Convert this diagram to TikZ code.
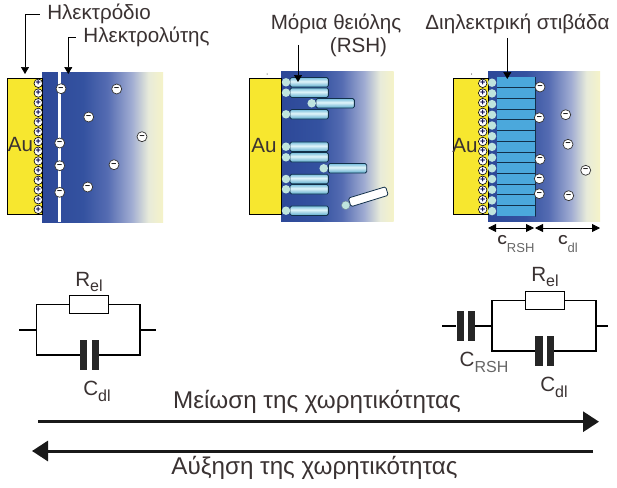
\documentclass[tikz,border=0pt]{standalone}
\usepackage{fontspec}
\setmainfont{Liberation Sans}
\usetikzlibrary{arrows.meta}

\definecolor{inktext}{HTML}{3A3232}
\definecolor{goldfill}{HTML}{F7E72F}
\definecolor{layerblue}{HTML}{4BA8DC}
\definecolor{edgeblue}{HTML}{12304A}
\definecolor{headteal}{HTML}{BFE4DE}
\definecolor{bulka}{RGB}{45,72,152}
\definecolor{bulkb}{RGB}{52,82,160}
\definecolor{bulkc}{RGB}{85,108,178}
\definecolor{bulkd}{RGB}{160,172,210}
\definecolor{bulke}{RGB}{232,235,218}
\definecolor{bulkf}{RGB}{245,243,200}
\definecolor{taila}{RGB}{90,170,205}
\definecolor{tailb}{RGB}{225,245,250}
\definecolor{tailc}{RGB}{120,190,220}

\pgfdeclarehorizontalshading{bulk}{100bp}{
  color(0bp)=(bulka);
  color(25bp)=(bulka);
  color(42bp)=(bulkb);
  color(52bp)=(bulkc);
  color(62bp)=(bulkd);
  color(69bp)=(bulke);
  color(75bp)=(bulkf);
  color(100bp)=(bulkf)}
\pgfdeclareverticalshading{tailshade}{100bp}{
  color(0bp)=(taila);
  color(25bp)=(taila);
  color(55bp)=(tailb);
  color(75bp)=(tailc);
  color(100bp)=(tailc)}

\newcommand{\lowsub}[1]{\raisebox{-.28em}{\fontsize{16}{16}\selectfont #1}}

\tikzset{
  goldbox/.style={draw=black,fill=goldfill,line width=.8pt,minimum width=#1,minimum height=136,inner sep=0},
  bulkbox/.style={shading=bulk,minimum width=#1,minimum height=150,inner sep=0},
  pluscirc/.style={circle,draw=black,fill=white,line width=.6pt,minimum size=8.5,inner sep=0,font=\fontsize{9}{9}\selectfont\bfseries,text=black!70!blue},
  minuscirc/.style={circle,draw=black!80,fill=white,line width=.7pt,minimum size=10,inner sep=0,text=black,font=\fontsize{9}{9}\selectfont\bfseries},
  tailbox/.style={draw=edgeblue,line width=.8pt,rounded corners=1.5,shading=tailshade,minimum width=#1,minimum height=9.5,inner sep=0},
  headcirc/.style={circle,fill=headteal,minimum size=8.5,inner sep=0},
  segbox/.style={fill=layerblue,minimum width=38,minimum height=10.7,inner sep=0},
  plate/.style={fill=black!85,minimum width=7.3,minimum height=30,inner sep=0},
  resbox/.style={draw=black,fill=white,line width=.5pt,minimum width=39,minimum height=18,inner sep=0},
  wire/.style={line width=1.2pt},
  pointer/.style={line width=.7pt,-{Triangle[length=7,width=8]}},
  bigarrow/.style={line width=3pt,black!90,-{Triangle[length=16,width=20]}},
  spanarrow/.style={line width=.8pt,{Triangle[length=8,width=8]}-{Triangle[length=8,width=8]}},
  toplabel/.style={font=\fontsize{20.6}{22}\selectfont},
  trendlabel/.style={font=\fontsize{24.2}{26}\selectfont},
  every node/.style={text=inktext,font=\fontsize{20.6}{22}\selectfont},
}

\begin{document}
\begin{tikzpicture}[x=1pt,y=-1pt]
  \useasboundingbox (0,0) rectangle (617,487);
  \fill[white] (0,0) rectangle (617,487);

  % bare electrode
  \node[bulkbox=121] (bulk1) at (102.5,147) {};
  \node[goldbox=34.5] (gold1) at (24.8,146) {};
  \node (au1) at (20.5,145) {Au};
  \fill[white] (57.7,72) rectangle (61,222);
  \foreach \i in {0,...,13}
    \node[pluscirc] (pa\i) at (38.3,83.3+9.7*\i) {+};
  \begin{scope}[every node/.style={minuscirc}]
    \node (ma1) at (61,88.7) {--};
    \node (ma2) at (116.7,89) {--};
    \node (ma3) at (88.7,117) {--};
    \node (ma4) at (142,136.7) {--};
    \node (ma5) at (59.7,143) {--};
    \node (ma6) at (114,164.7) {--};
    \node (ma7) at (59.7,165.7) {--};
    \node (ma8) at (87.7,187) {--};
    \node (ma9) at (59.7,192.3) {--};
  \end{scope}

  % thiol molecules
  \node[bulkbox=112.5] (bulk2) at (337.3,146) {};
  \node[goldbox=32.4] (gold2) at (265.5,146) {};
  \node (au2) at (264,146) {Au};
  \foreach \y in {82.3,92.7,114.3,146.7,157.3,179,189.3,210.7} {
    \node[tailbox=38.3] at (309.2,\y) {};
    \node[headcirc] at (286,\y) {};
  }
  \node[tailbox=38.3] (tb1) at (335.2,103.3) {};
  \node[headcirc] (hb1) at (311.7,103.3) {};
  \node[tailbox=38.3] (tb2) at (347.5,168.3) {};
  \node[headcirc] (hb2) at (323.7,168.3) {};
  \node[draw=edgeblue,line width=.8pt,fill=white,rounded corners=1.5,minimum width=39,minimum height=9,inner sep=0,rotate=17] (tb3) at (368.3,196.7) {};
  \node[headcirc,draw=edgeblue!60] (hb3) at (345.7,205.3) {};
  \node[fill=black,circle,inner sep=0,minimum size=1] (dot2) at (267,74) {};

  % dielectric layer
  \node[bulkbox=112] (bulk3) at (544,146) {};
  \node[goldbox=35] (gold3) at (470.5,146) {};
  \node (au3) at (465,146) {Au};
  \foreach \i in {0,...,12}
    \node[segbox] (sg\i) at (516,82.7+10.7*\i) {};
  \foreach \i in {0,...,11}
    \draw[line width=1pt,edgeblue] (497,87.8+10.7*\i) -- (535,87.8+10.7*\i);
  \draw[line width=.7pt,edgeblue] (sg0.north east) rectangle (sg12.south east);
  \foreach \i in {0,...,12}
    \node[headcirc] (hc\i) at (492,82.7+10.7*\i) {};
  \foreach \i in {0,...,13}
    \node[pluscirc] (pc\i) at (482.7,83.3+9.7*\i) {+};
  \begin{scope}[every node/.style={minuscirc}]
    \node (mc1) at (540,87) {--};
    \node (mc2) at (539.3,117.7) {--};
    \node (mc3) at (565.7,114.7) {--};
    \node (mc4) at (568,144.3) {--};
    \node (mc5) at (540,159.3) {--};
    \node (mc6) at (585.7,170.3) {--};
    \node (mc7) at (539.3,178.7) {--};
    \node (mc8) at (539.3,193.7) {--};
    \node (mc9) at (568.7,195.7) {--};
  \end{scope}
  \node[fill=black,circle,inner sep=0,minimum size=1] (dot3) at (471.7,74) {};

  % top labels and pointers
  \node (elec) at (99,14) {Ηλεκτρόδιο};
  \node (lyte) at (146.5,37) {Ηλεκτρολύτης};
  \node (thiol) at (336,24) {Μόρια θειόλης};
  \node (rsh) at (358.5,47) {(RSH)};
  \node (diel) at (517.5,24) {Διηλεκτρική στιβάδα};
  \coordinate (tipa) at (25,74);
  \coordinate (tipb) at (68.3,74);
  \coordinate (tipc) at (298,82);
  \coordinate (tipd) at (507.3,79);
  \coordinate (taild) at (507.3,38);
  \draw[pointer,shorten <=4pt] (elec.west) -| (tipa);
  \draw[pointer,shorten <=4pt] (lyte.west) -| (tipb);
  \draw[pointer] (298,45) -- (tipc);
  \draw[pointer] (taild) -- (tipd);

  % layer widths
  \coordinate (wa) at (488,228);
  \coordinate (wb) at (534,228);
  \coordinate (wc) at (535,228);
  \coordinate (wd) at (600,228);
  \draw[spanarrow] (wa) -- (wb);
  \draw[spanarrow] (wc) -- (wd);
  \node[font=\fontsize{13}{13}\selectfont] (lrsh) at (516,244) {\textbf{C}\raisebox{-.6em}{\color{black!60}RSH}};
  \node[font=\fontsize{13}{13}\selectfont] (ldl) at (568,244) {\textbf{C}\raisebox{-.6em}{\color{black!60}dl}};

  % left circuit
  \node[resbox] (rl) at (88.5,304.3) {};
  \node[plate] (cla) at (83.7,355) {};
  \node[plate] (clb) at (95.3,355) {};
  \coordinate (jla) at (36.6,330);
  \coordinate (jlb) at (140,330);
  \coordinate (ela) at (19,330);
  \coordinate (elb) at (155.5,330);
  \draw[wire] (rl.west) -| (jla) |- (cla.west);
  \draw[wire] (rl.east) -| (jlb) |- (clb.east);
  \draw[wire] (ela) -- (jla);
  \draw[wire] (jlb) -- (elb);
  \node (relL) at (89,282) {R\lowsub{el}};
  \node (cdlL) at (97,391.5) {C\lowsub{dl}};

  % right circuit
  \node[resbox] (rr) at (544.5,300.5) {};
  \node[plate] (cra) at (539,351) {};
  \node[plate] (crb) at (550.5,351) {};
  \node[plate] (csa) at (460.3,326) {};
  \node[plate] (csb) at (471.4,326) {};
  \coordinate (jra) at (492,326);
  \coordinate (jrb) at (596,326);
  \coordinate (era) at (442,326);
  \coordinate (erb) at (608,326);
  \draw[wire] (rr.west) -| (jra) |- (cra.west);
  \draw[wire] (rr.east) -| (jrb) |- (crb.east);
  \draw[wire] (era) -- (csa.west);
  \draw[wire] (csb.east) -- (jra);
  \draw[wire] (jrb) -- (erb);
  \node (relR) at (545,277) {R\lowsub{el}};
  \node (cdlR) at (554,387) {C\lowsub{dl}};
  \node (crshR) at (484,362) {C\lowsub{\color{black!60}RSH}};

  % capacitance trend
  \coordinate (ata) at (38,421.7);
  \coordinate (atb) at (599,421.7);
  \coordinate (ara) at (593,451);
  \coordinate (arb) at (32,451);
  \draw[bigarrow] (ata) -- (atb);
  \draw[bigarrow] (ara) -- (arb);
  \node[trendlabel] (down) at (317,402) {Μείωση της χωρητικότητας};
  \node[trendlabel] (up) at (314.5,468) {Αύξηση της χωρητικότητας};
\end{tikzpicture}
\end{document}
